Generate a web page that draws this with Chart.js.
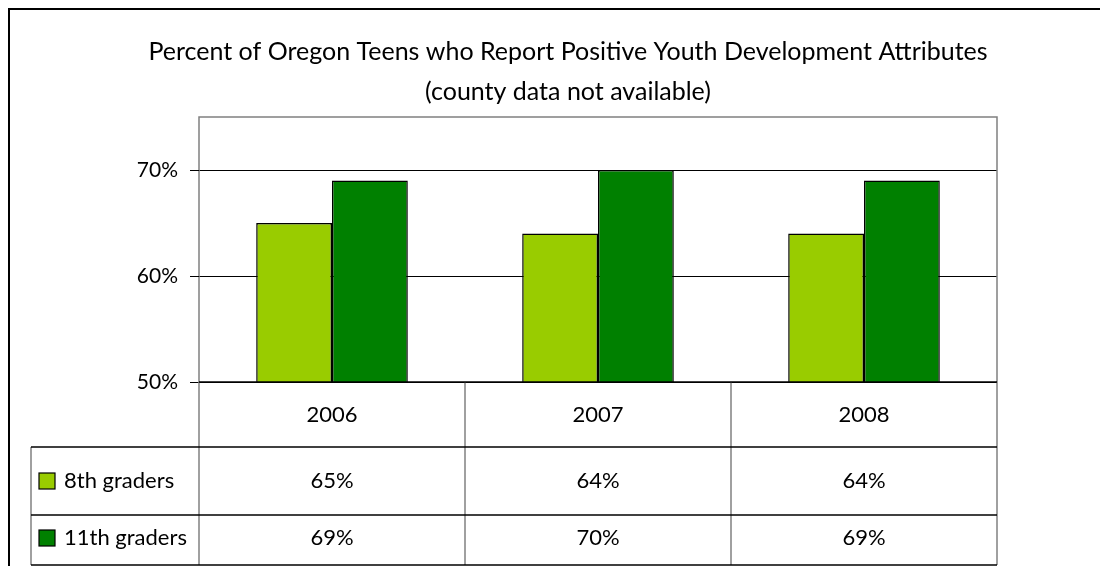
<!DOCTYPE html>
<html>
<head>
<title>Positive Youth Development Attributes</title>
<script src="https://cdn.jsdelivr.net/npm/chart.js"></script>
<style>
  body { margin: 0; background: #fff; }
  #wrap { width: 1100px; height: 566px; }
</style>
</head>
<body>
  <div id="wrap">
    <canvas id="pydChart" width="1100" height="566"></canvas>
  </div>

  <script>
    // Data
    const years = ['2006', '2007', '2008'];
    const eighthGraders = [65, 64, 64];
    const eleventhGraders = [69, 70, 69];
    const seriesNames = ['8th graders', '11th graders'];
    const yTicks = [50, 60, 70];

    const titleLines = [
      'Percent of Oregon Teens who Report Positive Youth Development Attributes',
      '(county data not available)'
    ];

    const FONT = 'Lato, "Open Sans", sans-serif';
    const colors = ['#99cc00', '#008000'];

    // Draws title, tick labels, frame and the data table under the plot
    const tablePlugin = {
      id: 'excelTable',
      afterDraw(chart) {
        const c = chart.ctx;
        const area = chart.chartArea;
        const x = chart.scales.x;
        const y = chart.scales.y;
        const catW = (area.right - area.left) / years.length;
        const rowTop = area.bottom;
        const row1 = 447, row2 = 515, rowEnd = 565;
        const leftCol = 31;

        c.save();

        // outer frame
        c.strokeStyle = '#000';
        c.lineWidth = 2;
        c.beginPath();
        c.moveTo(9, 566); c.lineTo(9, 9); c.lineTo(1100, 9);
        c.stroke();

        // title
        c.fillStyle = '#000';
        c.textAlign = 'center';
        c.textBaseline = 'middle';
        c.font = '25px ' + FONT;
        c.fillText(titleLines[0], 568, 52);
        c.fillText(titleLines[1], 568, 92);

        // plot border
        c.strokeStyle = '#808080';
        c.lineWidth = 1.5;
        c.beginPath();
        c.moveTo(area.left, area.bottom);
        c.lineTo(area.left, area.top);
        c.lineTo(area.right, area.top);
        c.lineTo(area.right, area.bottom);
        c.stroke();

        // y ticks and labels
        c.strokeStyle = '#000';
        c.lineWidth = 1;
        c.font = '21px ' + FONT;
        c.textAlign = 'right';
        yTicks.forEach(v => {
          const py = Math.round(y.getPixelForValue(v)) + 0.5;
          c.beginPath();
          c.moveTo(area.left - 9, py); c.lineTo(area.left, py);
          c.stroke();
          c.fillText(v + '%', area.left - 21, py);
        });

        // table grid
        c.strokeStyle = '#808080';
        c.lineWidth = 1.5;
        for (let i = 0; i <= years.length; i++) {
          const px = area.left + i * catW;
          c.beginPath();
          c.moveTo(px, rowTop); c.lineTo(px, rowEnd);
          c.stroke();
        }
        c.beginPath();
        c.moveTo(leftCol, row1); c.lineTo(leftCol, rowEnd);
        c.stroke();

        c.strokeStyle = '#000';
        c.lineWidth = 1.5;
        [row1, row2, rowEnd].forEach(ry => {
          c.beginPath();
          c.moveTo(leftCol, ry); c.lineTo(area.right, ry);
          c.stroke();
        });
        c.beginPath();
        c.moveTo(area.left, rowTop); c.lineTo(area.right, rowTop);
        c.stroke();

        // category labels and values
        c.fillStyle = '#000';
        c.textAlign = 'center';
        c.font = '22px ' + FONT;
        const rowsData = [eighthGraders, eleventhGraders];
        const rowMid = [(row1 + row2) / 2, 538];
        years.forEach((yr, i) => {
          const cx = x.getPixelForValue(i);
          c.fillText(yr, cx, (rowTop + row1) / 2);
          rowsData.forEach((d, r) => c.fillText(d[i] + '%', cx, rowMid[r]));
        });

        // legend keys
        c.textAlign = 'left';
        seriesNames.forEach((name, r) => {
          const my = rowMid[r];
          c.fillStyle = colors[r];
          c.fillRect(39, my - 8, 16, 16);
          c.strokeStyle = '#000';
          c.lineWidth = 1.2;
          c.strokeRect(39, my - 8, 16, 16);
          c.fillStyle = '#000';
          c.fillText(name, 64, my);
        });

        c.restore();
      }
    };

    const ctx = document.getElementById('pydChart').getContext('2d');
    new Chart(ctx, {
      type: 'bar',
      data: {
        labels: years,
        datasets: [
          {
            label: seriesNames[0],
            data: eighthGraders,
            backgroundColor: colors[0],
            borderColor: '#000',
            borderWidth: 1.5
          },
          {
            label: seriesNames[1],
            data: eleventhGraders,
            backgroundColor: colors[1],
            borderColor: '#000',
            borderWidth: 1.5
          }
        ]
      },
      options: {
        responsive: false,
        animation: false,
        layout: {
          padding: { left: 199, top: 117, right: 103, bottom: 184 }
        },
        datasets: {
          bar: { categoryPercentage: 0.57, barPercentage: 1.0 }
        },
        plugins: {
          legend: { display: false },
          title: { display: false },
          tooltip: { enabled: false }
        },
        scales: {
          x: { display: false },
          y: {
            min: 50,
            max: 75,
            ticks: { stepSize: 10, display: false },
            afterBuildTicks: (scale) => {
              scale.ticks = scale.ticks.filter(t => yTicks.includes(t.value));
            },
            grid: { color: '#000', lineWidth: 1, drawTicks: false },
            border: { display: false }
          }
        }
      },
      plugins: [tablePlugin]
    });
  </script>
</body>
</html>
